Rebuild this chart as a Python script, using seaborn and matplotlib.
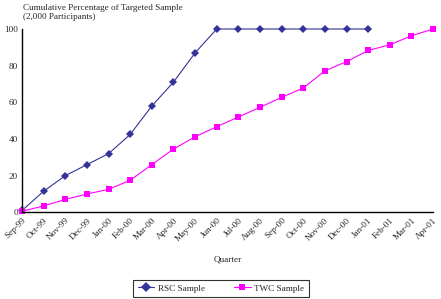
""" Cumulative percentage of targeted sample, RSC vs TWC """
import pandas as pd
import matplotlib
matplotlib.use('Agg')
import matplotlib.pyplot as plt
import seaborn as sns

months = ['Sep-99', 'Oct-99', 'Nov-99', 'Dec-99', 'Jan-00', 'Feb-00', 'Mar-00',
          'Apr-00', 'May-00', 'Jun-00', 'Jul-00', 'Aug-00', 'Sep-00', 'Oct-00',
          'Nov-00', 'Dec-00', 'Jan-01', 'Feb-01', 'Mar-01', 'Apr-01']
rsc = [1, 11.5, 20, 26, 32, 42.5, 58, 71, 87, 100, 100, 100, 100, 100, 100, 100, 100]
twc = [0.5, 3.5, 7, 10, 12.5, 17.5, 26, 34.5, 41.2, 46.7, 52, 57.3, 62.7, 67.8,
       77.2, 82.2, 88.3, 91.4, 96.3, 100]

sns.set_style('white')
plt.rcParams['font.family'] = ['Liberation Serif', 'DejaVu Serif']
plt.rcParams['font.size'] = 6.6

df = pd.concat([
    pd.DataFrame({'pos': range(len(rsc)), 'value': rsc, 'series': 'RSC Sample'}),
    pd.DataFrame({'pos': range(len(twc)), 'value': twc, 'series': 'TWC Sample'}),
])

fig = plt.figure(figsize=(4.41, 2.99), dpi=100)
ax = fig.add_axes([0.05, 0.29, 0.932, 0.613])
sns.lineplot(data=df, x='pos', y='value', hue='series', style='series',
             palette={'RSC Sample': '#333399', 'TWC Sample': '#FF00FF'},
             markers={'RSC Sample': 'D', 'TWC Sample': 's'},
             dashes=False, linewidth=0.8, markersize=5, markeredgewidth=0,
             ax=ax, clip_on=False)
ax.lines[0].set_markersize(4.5)

ax.set_xlim(0, len(months) - 1)
ax.set_ylim(0, 100)
ax.set_yticks([0, 20, 40, 60, 80, 100])
ax.set_xticks(range(len(months)))
ax.set_xticklabels(months, rotation=45, ha='right', rotation_mode='anchor')
ax.tick_params(axis='both', length=0, pad=3)
for side in ['top', 'right']:
    ax.spines[side].set_visible(False)
for side in ['left', 'bottom']:
    ax.spines[side].set_color('black')
    ax.spines[side].set_linewidth(1)

ax.set_ylabel('')
ax.set_xlabel('Quarter', labelpad=9)
ax.text(0.052, 0.985, 'Cumulative Percentage of Targeted Sample\n(2,000 Participants)',
        transform=fig.transFigure, ha='left', va='top', linespacing=1.05)

leg = ax.legend(loc='upper center', bbox_to_anchor=(0.484, -0.345), ncol=2,
                frameon=True, fancybox=False, edgecolor='black',
                borderpad=0.45, handlelength=1.8, handletextpad=0.4,
                columnspacing=3.2)
leg.get_frame().set_linewidth(0.8)

fig.savefig('out.png', dpi=100)
